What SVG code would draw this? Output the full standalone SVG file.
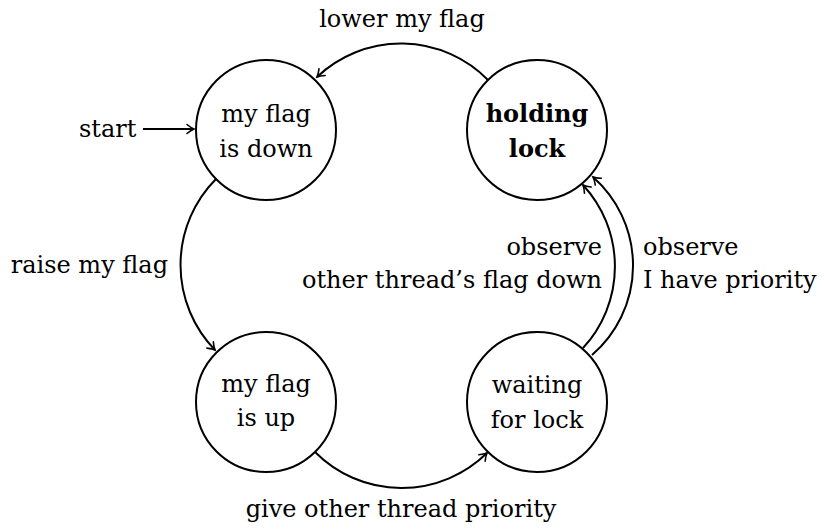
<svg xmlns="http://www.w3.org/2000/svg" width="824" height="531" viewBox="0 0 824 531">
  <style>
    .state { fill: #ffffff; stroke: #000000; stroke-width: 2; }
    .lbl { font-family: "DejaVu Serif", "Liberation Serif", serif; font-size: 24px; fill: #000000; }
    .mid { text-anchor: middle; }
    .end { text-anchor: end; }
    .bold { font-weight: bold; }
    .edge { fill: none; stroke: #000000; stroke-width: 2; marker-end: url(#tip); }
  </style>
  <defs>
    <marker id="tip" markerUnits="userSpaceOnUse" viewBox="-10 -7 12 14" refX="0" refY="0" markerWidth="12" markerHeight="14" orient="auto">
      <path d="M -7 -4.5 C -4 -2 -1.5 -0.6 0 0 C -1.5 0.6 -4 2 -7 4.5" fill="none" stroke="#000000" stroke-width="1.6" stroke-linecap="round"/>
    </marker>
  </defs>

  <!-- transitions -->
  <g id="connectors">
    <path class="edge" d="M 143 129 L 194 129"/>
    <path class="edge" d="M 488 80 A 122 122 0 0 0 317 77"/>
    <path class="edge" d="M 216 179 A 122 122 0 0 0 215 350"/>
    <path class="edge" d="M 315 452 A 122 122 0 0 0 487 453"/>
    <path class="edge" d="M 583 348 A 120 120 0 0 0 583 185"/>
    <path class="edge" d="M 592 355 A 118 118 0 0 0 593 177"/>
  </g>

  <!-- transition labels -->
  <g id="labels">
    <text class="lbl" x="79" y="137">start</text>
    <text class="lbl mid" x="402" y="27">lower my flag</text>
    <text class="lbl end" x="168" y="273">raise my flag</text>
    <text class="lbl mid" x="401" y="517">give other thread priority</text>
    <text class="lbl end" x="602" y="255">observe</text>
    <text class="lbl end" x="602" y="288">other thread’s flag down</text>
    <text class="lbl" x="643" y="255">observe</text>
    <text class="lbl" x="643" y="288">I have priority</text>
  </g>

  <g id="flag-down">
    <circle class="state" cx="266" cy="130" r="70"/>
    <text class="lbl mid" x="266" y="122">my flag</text>
    <text class="lbl mid" x="266" y="157">is down</text>
  </g>

  <g id="holding-lock">
    <circle class="state" cx="537" cy="130" r="70"/>
    <text class="lbl mid bold" x="537" y="122">holding</text>
    <text class="lbl mid bold" x="537" y="157">lock</text>
  </g>

  <g id="flag-up">
    <circle class="state" cx="266" cy="402" r="70"/>
    <text class="lbl mid" x="266" y="392">my flag</text>
    <text class="lbl mid" x="266" y="426">is up</text>
  </g>

  <g id="waiting-lock">
    <circle class="state" cx="537" cy="402" r="70"/>
    <text class="lbl mid" x="537" y="393">waiting</text>
    <text class="lbl mid" x="537" y="428">for lock</text>
  </g>
</svg>
